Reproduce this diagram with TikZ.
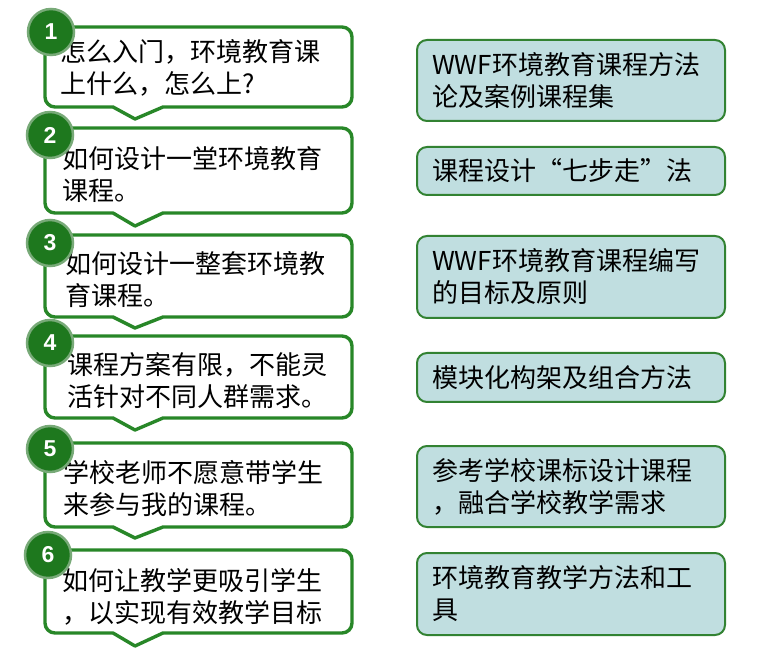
\documentclass[tikz,border=0pt]{standalone}
\usepackage{fontspec}
\setmainfont{Noto Sans CJK SC}
\newfontfamily\numfont{Liberation Sans}
\definecolor{bubgreen}{RGB}{40,135,40}
\definecolor{numgreen}{RGB}{30,120,30}
\definecolor{halo}{RGB}{120,170,120}
\definecolor{boxgreen}{RGB}{50,130,50}
\definecolor{boxblue}{RGB}{192,222,224}
\newcommand\qbubble[3]{%
  \draw[bubble] (135,#3) -- (113,#2) -- (55,#2)
    arc[start angle=270,end angle=180,radius=10] -- (45,{#1-10})
    arc[start angle=180,end angle=90,radius=10] -- (342,#1)
    arc[start angle=90,end angle=0,radius=10] -- (352,{#2+10})
    arc[start angle=0,end angle=-90,radius=10] -- (163,#2) -- cycle;}
\begin{document}
\begin{tikzpicture}[x=1pt,y=1pt,
  bubble/.style={draw=bubgreen, line width=3.4pt, fill=white, line join=round},
  numcirc/.style={circle, fill=numgreen, draw=halo, line width=2.5pt, minimum size=46pt,
    inner sep=0pt, text=white, font=\numfont\bfseries\fontsize{23}{23}\selectfont},
  qtext/.style={anchor=west, align=left, inner sep=0pt, font=\fontsize{26}{32}\selectfont},
  ansbox/.style={draw=boxgreen, line width=2pt, fill=boxblue, rounded corners=10pt,
    minimum width=308pt, text width=278pt, inner xsep=15pt, inner ysep=0pt, align=left,
    font=\fontsize{26}{32}\selectfont}]
\useasboundingbox (0,0) rectangle (765,659);

% question bubbles
\qbubble{632}{552}{540}
\qbubble{531}{446}{433}
\qbubble{424}{342}{331}
\qbubble{323}{241}{229}
\qbubble{216}{132}{121}
\qbubble{109}{26}{13}

\node[qtext] (q1) at (60,591) {怎么入门，环境教育课\\上什么，怎么上?};
\node[qtext] (q2) at (62,484) {如何设计一堂环境教育\\课程。};
\node[qtext] (q3) at (65,379) {如何设计一整套环境教\\育课程。};
\node[qtext] (q4) at (67,278) {课程方案有限，不能灵\\活针对不同人群需求。};
\node[qtext] (q5) at (63,170) {学校老师不愿意带学生\\来参与我的课程。};
\node[qtext] (q6) at (62,62) {如何让教学更吸引学生\\，以实现有效教学目标};

\node[numcirc] (n1) at (51,627) {1};
\node[numcirc] (n2) at (50,524) {2};
\node[numcirc] (n3) at (50,416) {3};
\node[numcirc] (n4) at (50,316) {4};
\node[numcirc] (n5) at (50,210) {5};
\node[numcirc] (n6) at (48,104) {6};

% answer boxes
\node[ansbox, minimum height=81pt] (a1) at (571,578.5) {WWF环境教育课程方法\\论及案例课程集};
\node[ansbox, minimum height=48pt] (a2) at (571,488) {课程设计“七步走”法};
\node[ansbox, minimum height=82pt] (a3) at (571,382) {WWF环境教育课程编写\\的目标及原则};
\node[ansbox, minimum height=49pt] (a4) at (571,281.5) {模块化构架及组合方法};
\node[ansbox, minimum height=81pt] (a5) at (571,172.5) {参考学校课标设计课程\\，融合学校教学需求};
\node[ansbox, minimum height=82pt] (a6) at (571,65) {环境教育教学方法和工\\具};
\end{tikzpicture}
\end{document}
